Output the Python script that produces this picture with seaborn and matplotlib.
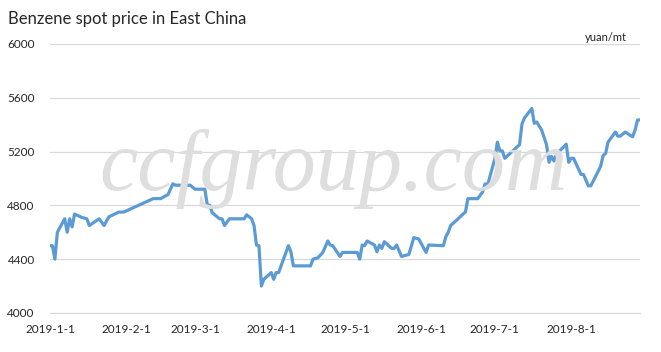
import pandas as pd
import seaborn as sns
import matplotlib.pyplot as plt

# Preço spot do benzeno (leitura aproximada do gráfico)
datas = [
    "2019-01-01", "2019-01-02", "2019-01-03", "2019-01-04", "2019-01-07", "2019-01-08",
    "2019-01-09", "2019-01-10", "2019-01-11", "2019-01-14", "2019-01-16", "2019-01-17",
    "2019-01-21", "2019-01-23", "2019-01-25", "2019-01-29", "2019-01-31", "2019-02-12",
    "2019-02-15", "2019-02-18", "2019-02-20", "2019-02-21", "2019-02-27", "2019-03-01",
    "2019-03-05", "2019-03-06", "2019-03-07", "2019-03-08", "2019-03-11", "2019-03-12",
    "2019-03-13", "2019-03-15", "2019-03-21", "2019-03-22", "2019-03-24", "2019-03-25",
    "2019-03-26", "2019-03-27", "2019-03-28", "2019-03-29", "2019-04-01", "2019-04-02",
    "2019-04-03", "2019-04-04", "2019-04-08", "2019-04-09", "2019-04-10", "2019-04-17",
    "2019-04-18", "2019-04-20", "2019-04-22", "2019-04-24", "2019-04-25", "2019-04-26",
    "2019-04-29", "2019-04-30", "2019-05-06", "2019-05-07", "2019-05-08", "2019-05-09",
    "2019-05-10", "2019-05-13", "2019-05-14", "2019-05-15", "2019-05-16", "2019-05-17",
    "2019-05-20", "2019-05-21", "2019-05-22", "2019-05-24", "2019-05-27", "2019-05-29",
    "2019-05-31", "2019-06-03", "2019-06-04", "2019-06-10", "2019-06-11", "2019-06-12",
    "2019-06-13", "2019-06-16", "2019-06-18", "2019-06-19", "2019-06-20", "2019-06-24",
    "2019-06-26", "2019-06-27", "2019-06-28", "2019-07-01", "2019-07-02", "2019-07-03",
    "2019-07-04", "2019-07-05", "2019-07-08", "2019-07-10", "2019-07-11", "2019-07-12",
    "2019-07-13", "2019-07-16", "2019-07-17", "2019-07-18", "2019-07-20", "2019-07-22",
    "2019-07-23", "2019-07-24", "2019-07-25", "2019-07-26", "2019-07-30", "2019-07-31",
    "2019-08-01", "2019-08-02", "2019-08-05", "2019-08-06", "2019-08-08", "2019-08-09",
    "2019-08-13", "2019-08-14", "2019-08-15", "2019-08-16", "2019-08-19", "2019-08-20",
    "2019-08-21", "2019-08-23", "2019-08-26", "2019-08-27", "2019-08-28", "2019-08-29",
]
precos = [
    4500, 4500, 4400, 4600, 4700, 4600,
    4700, 4640, 4735, 4710, 4700, 4650,
    4700, 4650, 4715, 4750, 4750, 4850,
    4850, 4880, 4960, 4950, 4950, 4920,
    4920, 4800, 4800, 4745, 4700, 4700,
    4650, 4700, 4700, 4730, 4700, 4650,
    4505, 4500, 4200, 4250, 4300, 4250,
    4300, 4300, 4500, 4455, 4350, 4350,
    4400, 4410, 4450, 4535, 4505, 4500,
    4420, 4450, 4450, 4400, 4505, 4500,
    4535, 4505, 4455, 4505, 4480, 4530,
    4480, 4480, 4505, 4420, 4435, 4560,
    4550, 4450, 4505, 4500, 4565, 4600,
    4650, 4700, 4735, 4750, 4850, 4850,
    4900, 4960, 4950, 5150, 5270, 5205,
    5205, 5150, 5200, 5235, 5250, 5405,
    5450, 5520, 5410, 5420, 5360, 5250,
    5120, 5165, 5130, 5180, 5255, 5120,
    5150, 5150, 5030, 5030, 4945, 4945,
    5090, 5170, 5185, 5270, 5345, 5315,
    5315, 5345, 5310, 5360, 5435, 5435,
]
ticks_datas = ["2019-01-01", "2019-02-01", "2019-03-01", "2019-04-01",
               "2019-05-01", "2019-06-01", "2019-07-01", "2019-08-01"]
ticks_labels = ["2019-1-1", "2019-2-1", "2019-3-1", "2019-4-1",
                "2019-5-1", "2019-6-1", "2019-7-1", "2019-8-1"]
y_ticks = [4000, 4400, 4800, 5200, 5600, 6000]

df = pd.DataFrame({"data": pd.to_datetime(datas), "preco": precos})

sns.set_style("white")
plt.rcParams['font.family'] = ['Lato', 'DejaVu Sans']

fig = plt.figure(figsize=(6.61, 3.52), dpi=100)
ax = fig.add_axes([0.0756, 0.111, 0.8926, 0.764])

# marca d'água
fig.text(0.505, 0.46, "ccfgroup.com", family="Liberation Serif", style="italic",
         fontsize=62, color="#dedede", ha="center", va="baseline", zorder=0)

sns.lineplot(data=df, x="data", y="preco", ax=ax, color="#5b9bd5", linewidth=2.3)

ax.set_xlim(pd.Timestamp("2019-01-01"), pd.Timestamp("2019-08-29"))
ax.set_ylim(4000, 6000)
ax.set_yticks(y_ticks)
ax.set_yticklabels([str(v) for v in y_ticks])
ax.set_xticks(pd.to_datetime(ticks_datas))
ax.set_xticklabels(ticks_labels)
ax.grid(axis="y", color="#d9d9d9", linewidth=0.9)
ax.set_axisbelow(True)
ax.patch.set_alpha(0)
for s in ["top", "right", "left"]:
    ax.spines[s].set_visible(False)
ax.spines["bottom"].set_color("#d9d9d9")
ax.tick_params(axis="x", length=4, color="#d9d9d9", direction="out", pad=4, labelsize=8.5)
ax.tick_params(axis="y", length=0, pad=11, labelsize=8.5)
ax.set_xlabel("")
ax.set_ylabel("")

fig.text(0.012, 0.945, "Benzene spot price in East China", fontsize=12, ha="left", va="center")
fig.text(0.948, 0.893, "yuan/mt", fontsize=8, ha="right", va="center")

plt.savefig("out.png", dpi=100)
